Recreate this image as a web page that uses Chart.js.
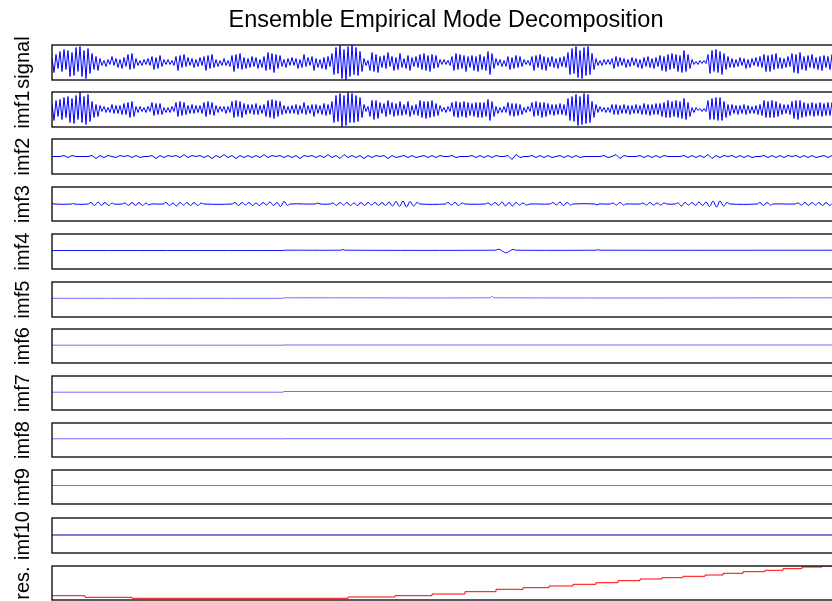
<!DOCTYPE html>
<html>
<head>
<meta charset="utf-8">
<title>Ensemble Empirical Mode Decomposition</title>
<script src="https://cdn.jsdelivr.net/npm/chart.js@4/dist/chart.umd.min.js"></script>
<style>
  html, body { margin: 0; padding: 0; background: #fff; overflow: hidden; width: 832px; height: 601px; }
  #wrap { position: relative; width: 832px; height: 601px; overflow: hidden; }
  #wrap canvas { position: absolute; left: 0; }
</style>
</head>
<body>
<div id="wrap"></div>
<script>
// ---- component names (one panel each, top to bottom) ----
const componentNames = ['signal', 'imf1', 'imf2', 'imf3', 'imf4', 'imf5',
                        'imf6', 'imf7', 'imf8', 'imf9', 'imf10', 'res.'];

// ---- original signal, one sample every 2 time steps ----
const signalValues = [
  5,-10,8,-6,11,-9,13,-7,12,-14,10,-13,15,-9,16,-14,12,-16,14,-11,
  9,-7,6,-8,4,-3,2,-4,3,-2,6,-3,4,-5,3,-6,5,-4,8,-7,
  9,-6,4,-3,2,-3,3,-2,4,-3,6,-7,5,-6,7,-4,3,-2,3,-2,
  2,-3,6,-8,7,-5,8,-4,5,-3,4,-5,3,-4,5,-3,6,-8,7,-6,
  8,-5,3,-4,2,-3,4,-3,2,-4,7,-9,8,-6,9,-7,5,-6,4,-5,
  6,-4,5,-6,3,-5,6,-8,10,-7,9,-10,8,-6,7,-4,3,-5,4,-3,
  5,-3,4,-6,3,-5,8,-4,5,-3,6,-8,4,-5,3,-6,5,-7,6,-4,
  9,-12,15,-11,17,-16,13,-17,16,-14,17,-12,15,-13,11,-9,4,-3,2,-8,
  10,-9,8,-10,6,-5,7,-6,10,-4,6,-8,5,-7,9,-5,4,-6,7,-8,
  5,-4,6,-5,8,-7,9,-8,7,-9,8,-6,7,-5,3,-2,3,-2,2,-3,
  6,-8,9,-7,8,-6,7,-9,6,-5,7,-8,6,-9,8,-7,6,-8,11,-12,
  9,-6,4,-3,3,-4,2,-4,6,-7,5,-6,7,-5,6,-4,3,-2,2,-3,
  6,-8,7,-5,8,-7,6,-8,5,-4,6,-5,4,-6,5,-4,6,-5,10,-12,
  14,-11,16,-15,12,-16,15,-13,16,-12,9,-7,4,-3,2,-3,3,-2,3,-2,
  4,-6,6,-4,5,-3,4,-5,3,-4,5,-3,4,-5,3,-6,5,-4,6,-5,
  4,-6,5,-4,7,-8,6,-9,8,-7,9,-6,8,-9,7,-10,12,-9,8,-6,
  3,-2,1,-2,2,-1,2,-1,8,-11,12,-9,13,-10,11,-12,9,-7,6,-5,
  4,-5,3,-4,5,-3,4,-6,3,-5,4,-3,5,-4,6,-5,8,-9,7,-9,
  8,-7,9,-6,5,-6,4,-5,6,-4,9,-10,8,-11,10,-7,6,-8,7,-5,
  8,-6,5,-7,6,-8,7,-5,6,-7,8,-6,5,-7,6,-5,7,-6,5,-6
];

// ---- imf1, one sample every 2 time steps ----
const imf1Values = [
  6,-11,9,-7,10,-10,12,-8,13,-13,11,-14,14,-10,17,-13,13,-15,15,-12,
  8,-8,5,-7,4,-2,3,-3,2,-3,5,-4,4,-4,4,-5,6,-5,7,-8,
  8,-7,3,-3,3,-2,2,-3,3,-2,7,-6,6,-5,6,-5,2,-3,2,-3,
  3,-2,7,-7,8,-6,7,-5,4,-4,5,-4,4,-3,4,-4,7,-7,8,-5,
  7,-6,4,-3,3,-2,3,-4,3,-3,8,-8,9,-7,8,-8,6,-5,5,-4,
  5,-5,6,-5,4,-4,5,-7,9,-8,10,-9,9,-7,8,-5,4,-4,3,-4,
  4,-4,5,-5,4,-4,7,-5,4,-4,5,-7,5,-4,4,-5,6,-6,5,-5,
  8,-13,14,-12,16,-17,14,-16,17,-13,16,-13,14,-12,12,-8,5,-2,3,-7,
  9,-10,9,-9,7,-4,6,-7,9,-5,7,-7,6,-6,8,-6,5,-5,8,-7,
  4,-5,5,-6,9,-8,8,-9,8,-8,9,-7,6,-6,4,-2,2,-3,3,-2,
  7,-7,8,-8,7,-7,8,-8,7,-6,6,-7,7,-8,7,-8,7,-7,10,-11,
  8,-7,3,-4,2,-3,3,-3,7,-6,6,-7,6,-6,5,-5,2,-3,3,-2,
  7,-7,8,-6,7,-8,7,-7,6,-5,5,-6,5,-5,6,-5,5,-6,11,-11,
  13,-12,15,-16,13,-15,16,-14,15,-13,8,-8,5,-3,3,-2,2,-3,2,-3,
  5,-5,5,-5,4,-4,5,-4,4,-5,4,-4,5,-4,4,-5,6,-5,5,-6,
  5,-5,6,-5,6,-7,7,-8,9,-8,8,-7,9,-8,8,-9,11,-10,7,-7,
  2,-3,2,-1,1,-2,1,-2,9,-10,11,-10,12,-11,12,-11,8,-8,5,-6,
  5,-4,4,-5,4,-4,5,-5,4,-4,3,-4,4,-5,5,-6,9,-8,8,-8,
  9,-8,8,-7,6,-5,5,-4,5,-5,8,-9,9,-10,9,-8,7,-7,6,-6,
  7,-7,6,-6,7,-7,6,-6,7,-6,7,-7,6,-6,7,-6,6,-7,6,-5
];

// ---- imf2, one sample every 4 time steps ----
const imf2Values = [
  0,0,0,1,-1,1,0,0,0,0,
  1,-2,1,-1,1,0,-1,1,0,1,
  -1,1,-1,0,0,1,-2,1,-1,1,
  0,1,-1,2,-1,1,0,1,-1,1,
  -2,1,-1,2,-1,1,-2,1,-1,1,
  -1,1,-1,2,-1,1,0,1,-1,1,
  -1,1,-2,1,0,1,-1,1,-1,2,
  -1,1,-2,2,-1,1,-1,1,-2,1,
  -1,1,0,1,-2,1,-1,0,1,-1,
  1,-1,0,1,-1,1,-1,1,0,0,
  1,-1,0,0,0,1,-1,1,-1,1,
  -1,1,0,0,1,-3,2,-1,0,0,
  1,-1,1,-1,1,-1,0,1,-1,1,
  -1,1,-1,0,0,0,0,0,1,-1,
  0,2,-2,1,0,0,0,1,-1,1,
  -1,1,-1,1,0,0,0,0,1,-1,
  1,-1,1,-1,2,-2,1,-1,1,0,
  1,-1,1,-1,1,-1,0,0,1,-1,
  1,-1,1,-1,1,0,1,-1,1,-1,
  1,-1,0,1,-1,1,-1,1,0,1
];

// ---- imf3: time stamps and values of its turning points ----
const imf3Time = [
  0,2,20,21,22,36,
  39,42.5,46,49.5,53,56.5,60,62,
  70,73,76.5,80,83.5,87,90.5,94,97,99,
  111,114,117.5,121,124.5,128,131.5,135,138.5,142,145.5,149,152,
  180,183,186.5,190,193.5,197,200.5,204,207.5,211,214.5,218,221.5,225,228.5,232,235.5,238,
  263,266,268,278,
  281,284.5,288,291.5,295,298.5,302,305.5,309,312.5,316,319.5,323,326.5,330,333.5,337,340.5,344,347.5,351,354.5,358,361.5,365,368,
  393,396,399.5,403,406.5,410,413,
  433,436,439.5,443,446.5,450,453.5,457,460.5,464,467.5,471,474.5,478,
  498,501,504.5,508,511.5,515,518.5,521,
  543,545,547,558,
  561,564.5,568,571.5,574,
  588,591,594.5,598,601.5,605,608.5,612,615,
  623,626,629.5,633,636.5,640,643.5,647,650.5,654,657.5,661,664.5,668,671.5,675,678,
  705,708,711.5,715,718.5,721,
  743,746,749.5,753,756.5,760,763.5,767,770.5,774,777.5,781,784.5,788,840
];
const imf3Values = [
  1,0,0,1,0,0,
  1.5,-1.5,2,-1.5,1.5,-1.5,1,0,
  0,1,-1.5,1.5,-1.5,1.5,-1.5,1,-1,0,
  0,1.5,-1.5,1,-2,1.5,-1,1.5,-1.5,1.5,-1.5,1,0,
  0,1.5,-1.5,1.5,-1,1.5,-1.5,1,-1.5,1.5,-1,2,-1.5,1.5,-2.5,2.5,-1.5,0,
  0,1,0,0,
  1,-1.5,1.5,-1,1.5,-1.5,1,-1.5,1.5,-1.5,1.5,-1,1.5,-1.5,1.5,-1.5,2,-2,2.5,-2.5,3,-3,2.5,-2,1.5,0,
  0,1.5,-1,1.5,-1.5,1,0,
  0,1,-1,1.5,-1.5,2,-2,1.5,-2,1.5,-1,1,-1,0,
  0,1.5,-1,2,-1.5,1.5,-1,0,
  0,-1,0,0,
  1,-1,1.5,-1,0,
  0,1,-1,1.5,-1,1,-1,1,0,
  0,1,-2,1.5,-1,1.5,-1.5,2,-1.5,2,-2.5,3,-3,3,-2,1.5,0,
  0,1.5,-1.5,1.5,-1,0,
  0,1,-1,1.5,-1.5,1.5,-1,1.5,-1.5,1.5,-1.5,1,-1,0,0
];

// ---- imf4 .. imf10: nearly flat components ----
const imf4Time   = [0,231,232,289,291,293,443,447,451,454,457,461,464,544,546,548,840];
const imf4Values = [1,1,1.3,1.3,2,1.3,1.3,2.3,0,-1.4,0,2.2,1.3,1.3,1.8,1.3,1.3];
const imf5Time   = [0,231,232,438,440,442,840];
const imf5Values = [1.2,1.2,1.7,1.7,3.2,1.7,1.7];
const imf6Time   = [0,231,232,840];
const imf6Values = [0.8,0.8,1.0,1.0];
const imf7Time   = [0,231,232,840];
const imf7Values = [0.8,0.8,1.5,1.5];
const imf8Time   = [0,231,232,840];
const imf8Values = [1.2,1.2,1.3,1.3];
const imf9Time   = [0,840];
const imf9Values = [1.5,1.5];
const imf10Time   = [0,840];
const imf10Values = [0.5,0.5];

// ---- residue: staircase trend (value holds until the next time stamp) ----
const resTime   = [0,33,80,296,343,380,413,444,471,497,521,544,566,588,610,631,653,671,691,713,731,750,770,840];
const resValues = [4.3,2.7,1.7,3.0,4.3,6.0,8.3,10.7,12.3,14.0,15.7,17.3,19.3,21.0,22.3,23.7,25.0,26.7,28.3,29.7,31.3,33.0,34.0,34.0];

// ---- helpers that turn the arrays above into Chart.js points ----
function sampled(values, step) {
  return values.map((v, i) => ({ x: i * step, y: v }));
}
function paired(times, values) {
  return times.map((t, i) => ({ x: t, y: values[i] }));
}

// ---- page layout: panel tops / heights in CSS px ----
const panelTop    = [45, 92, 139, 187, 234, 282, 329, 376, 423, 470, 518, 566];
const panelHeight = [35, 35, 35, 34, 35, 35, 34, 34, 34, 34, 35, 34];
const CANVAS_W = 892;   // axes run a little past the right edge of the page
const AXIS_W = 52;      // room for the rotated component names
const PAD = 14;
const T_MAX = 840;

const panels = [
  { data: sampled(signalValues, 2), color: '#0000ff' },
  { data: sampled(imf1Values, 2),   color: '#0000ff' },
  { data: sampled(imf2Values, 4),   color: '#0000ff' },
  { data: paired(imf3Time, imf3Values), color: '#0000ff', tension: 0.4 },
  { data: paired(imf4Time, imf4Values), color: '#1414ff', tension: 0.3 },
  { data: paired(imf5Time, imf5Values), color: '#6e6eff', tension: 0.3 },
  { data: paired(imf6Time, imf6Values), color: '#6e6eff' },
  { data: paired(imf7Time, imf7Values), color: '#6e6eff' },
  { data: paired(imf8Time, imf8Values), color: '#6e6eff' },
  { data: paired(imf9Time, imf9Values), color: '#7070ff' },
  { data: paired(imf10Time, imf10Values), color: '#0000b4' },
  { data: paired(resTime, resValues), color: '#ff0000', stepped: true, yMin: 0, yMax: 34 }
];

// black box around every panel, drawn over the trace
const panelFrame = {
  id: 'panelFrame',
  afterDatasetsDraw(chart) {
    const { ctx, chartArea: a } = chart;
    ctx.save();
    ctx.strokeStyle = '#000';
    ctx.lineWidth = 1.3;
    ctx.strokeRect(a.left, a.top, a.right - a.left, a.bottom - a.top);
    ctx.restore();
  }
};

const wrap = document.getElementById('wrap');
panels.forEach((p, k) => {
  const first = k === 0;
  const canvas = document.createElement('canvas');
  const top = first ? 0 : panelTop[k] - PAD;
  const height = first ? panelTop[0] + panelHeight[0] + PAD : panelHeight[k] + 2 * PAD;
  canvas.width = CANVAS_W;
  canvas.height = height;
  canvas.style.width = CANVAS_W + 'px';
  canvas.style.height = height + 'px';
  canvas.style.top = top + 'px';
  wrap.appendChild(canvas);

  const half = panelHeight[k] / 2;
  new Chart(canvas, {
    type: 'line',
    data: {
      datasets: [{
        data: p.data,
        borderColor: p.color,
        borderWidth: 1,
        pointRadius: 0,
        fill: false,
        tension: p.tension || 0,
        stepped: p.stepped || false
      }]
    },
    options: {
      responsive: false,
      animation: false,
      devicePixelRatio: 1,
      events: [],
      layout: { padding: { top: first ? 0 : PAD, bottom: PAD, left: 0, right: 0 } },
      plugins: {
        legend: { display: false },
        tooltip: { enabled: false },
        title: first ? {
          display: true,
          text: 'Ensemble Empirical Mode Decomposition',
          color: '#000',
          font: { family: 'Liberation Sans', size: 23.5, weight: 'normal' },
          padding: { top: 6, bottom: 10.8 }
        } : { display: false }
      },
      scales: {
        x: { type: 'linear', min: 0, max: T_MAX, display: false },
        y: {
          min: p.yMin !== undefined ? p.yMin : -half,
          max: p.yMax !== undefined ? p.yMax : half,
          ticks: { display: false },
          grid: { display: false },
          border: { display: false },
          title: {
            display: true,
            text: componentNames[k],
            color: '#000',
            font: { family: 'Liberation Sans', size: 20 },
            padding: { top: 11, bottom: 0 }
          },
          afterFit(scale) { scale.width = AXIS_W; }
        }
      }
    },
    plugins: [panelFrame]
  });
});
</script>
</body>
</html>
